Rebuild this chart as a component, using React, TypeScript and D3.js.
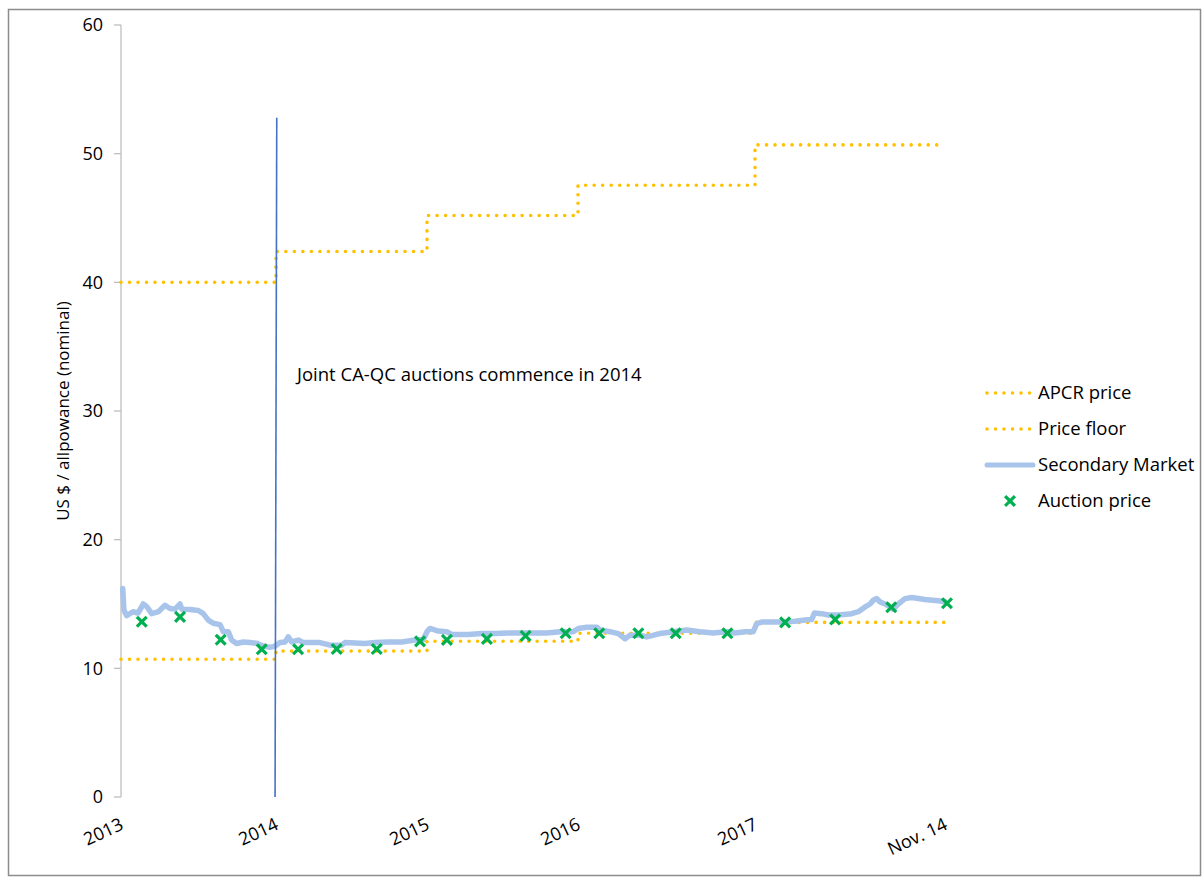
import React from 'react';
import * as d3 from 'd3';

// ---- data ----
const stepYears = [2013, 2014, 2015, 2016, 2017, 2017.87];
const priceFloor = [10.71, 11.34, 12.1, 12.73, 13.57];
const apcrPrice = [40, 42.4, 45.2, 47.54, 50.68];

const xTickYears = [2013, 2014, 2015, 2016, 2017, 2017.87];
const xTickLabels = ['2013', '2014', '2015', '2016', '2017', 'Nov. 14'];
const yTicks = [0, 10, 20, 30, 40, 50, 60];

const auctionYears = [
  2013.134, 2013.381, 2013.643, 2013.908, 2014.146, 2014.402, 2014.667, 2014.954,
  2015.132, 2015.397, 2015.653, 2015.918, 2016.12, 2016.341, 2016.552, 2016.844,
  2017.138, 2017.367, 2017.624, 2017.879,
];
const auctionPrices = [
  13.62, 14.0, 12.22, 11.48, 11.48, 11.5, 11.5, 12.1, 12.21, 12.29, 12.52, 12.73,
  12.73, 12.73, 12.73, 12.73, 13.57, 13.8, 14.75, 15.06,
];

const secondaryYears = [
  2013.011, 2013.019, 2013.037, 2013.077, 2013.11, 2013.144, 2013.166, 2013.198, 2013.241,
  2013.284, 2013.316, 2013.348, 2013.381, 2013.392, 2013.445, 2013.499, 2013.531, 2013.563,
  2013.595, 2013.639, 2013.66, 2013.692, 2013.714, 2013.746, 2013.789, 2013.832, 2013.875,
  2013.918, 2013.961, 2013.994,
  2014.026, 2014.06, 2014.081, 2014.104, 2014.148, 2014.181, 2014.291, 2014.358, 2014.435,
  2014.457, 2014.589, 2014.656, 2014.744, 2014.832, 2014.921, 2014.976,
  2015.0, 2015.02, 2015.075, 2015.13, 2015.164, 2015.274, 2015.362, 2015.45, 2015.538,
  2015.627, 2015.704, 2015.793, 2015.881, 2015.969,
  2016.002, 2016.049, 2016.106, 2016.124, 2016.181, 2016.228, 2016.266, 2016.294, 2016.35,
  2016.388, 2016.463, 2016.539, 2016.614, 2016.689, 2016.764, 2016.84, 2016.887, 2016.944,
  2016.99,
  2017.008, 2017.031, 2017.076, 2017.13, 2017.183, 2017.229, 2017.26, 2017.272, 2017.305,
  2017.336, 2017.381, 2017.443, 2017.473, 2017.504, 2017.527, 2017.542, 2017.557, 2017.573,
  2017.595, 2017.618, 2017.633, 2017.656, 2017.687, 2017.718, 2017.778, 2017.839, 2017.87,
];
const secondaryPrices = [
  16.2, 14.5, 14.1, 14.4, 14.3, 15.0, 14.8, 14.25, 14.4,
  14.9, 14.65, 14.6, 15.0, 14.6, 14.57, 14.5, 14.25, 13.75,
  13.5, 13.4, 12.85, 12.85, 12.2, 11.93, 12.05, 12.0, 11.95,
  11.73, 11.63, 11.73,
  12.0, 12.05, 12.44, 12.05, 12.2, 12.0, 12.0, 11.8, 11.8,
  12.0, 11.93, 12.0, 12.05, 12.05, 12.2, 12.24,
  12.85, 13.1, 12.9, 12.85, 12.63, 12.63, 12.7, 12.7, 12.75,
  12.75, 12.75, 12.75, 12.85, 12.85,
  13.1, 13.2, 13.2, 12.98, 12.85, 12.7, 12.3, 12.58, 12.58,
  12.44, 12.7, 12.85, 12.98, 12.85, 12.75, 12.85, 12.75, 12.85,
  12.85,
  13.48, 13.6, 13.6, 13.6, 13.66, 13.75, 13.8, 14.3, 14.25,
  14.14, 14.14, 14.25, 14.4, 14.77, 15.0, 15.3, 15.42, 15.16,
  15.0, 14.77, 14.6, 15.0, 15.42, 15.5, 15.35, 15.25, 15.17,
];

const markerYears = [2014.005, 2013.994];
const markerValues = [52.8, 0];

const annotationText = 'Joint CA-QC auctions commence in 2014';
const yTitle = 'US $ / allpowance (nominal)';
const legendItems = ['APCR price', 'Price floor', 'Secondary Market', 'Auction price'];

// ---- styles ----
const FONT = '"Open Sans", "Noto Sans", sans-serif';
const ORANGE = '#ffc000';
const LIGHTBLUE = '#a9c4eb';
const DARKBLUE = '#4472c4';
const GREEN = '#00b050';
const AXIS = '#bfbfbf';

export default function App() {
  const x = d3
    .scaleLinear()
    .domain(stepYears)
    .range([121, 276, 427, 578, 755, 945]);
  const y = d3.scaleLinear().domain([0, 60]).range([797, 25]);

  const stepLine = d3
    .line<[number, number]>()
    .x((d) => x(d[0]))
    .y((d) => y(d[1]))
    .curve(d3.curveStepAfter);

  const stepData = (vals: number[]): [number, number][] => {
    const pts: [number, number][] = vals.map((v, i) => [stepYears[i], v]);
    pts.push([stepYears[stepYears.length - 1], vals[vals.length - 1]]);
    return pts;
  };

  const plainLine = d3
    .line<[number, number]>()
    .x((d) => x(d[0]))
    .y((d) => y(d[1]));

  const secData: [number, number][] = secondaryYears.map((yr, i) => [yr, secondaryPrices[i]]);
  const markerData: [number, number][] = markerYears.map((yr, i) => [yr, markerValues[i]]);

  const dotStyle = {
    fill: 'none',
    stroke: ORANGE,
    strokeWidth: 3.6,
    strokeDasharray: '0.01 8.5',
    strokeLinecap: 'round' as const,
  };

  const xMark = (cx: number, cy: number, key: any) => (
    <g key={key} stroke={GREEN} strokeWidth={3.2} strokeLinecap="square">
      <line x1={cx - 3.8} y1={cy - 3.8} x2={cx + 3.8} y2={cy + 3.8} />
      <line x1={cx - 3.8} y1={cy + 3.8} x2={cx + 3.8} y2={cy - 3.8} />
    </g>
  );

  const legendY = [393, 429, 465, 501];
  const lx0 = 987;
  const lx1 = 1033;

  return (
    <svg
      width={1202}
      height={879}
      style={{ position: 'absolute', left: 0, top: 0, background: '#fff' }}
      fontFamily={FONT}
    >
      <rect x={8.5} y={9.5} width={1192} height={866} fill="#fff" stroke="#8c8c8c" strokeWidth={1.5} />

      {/* y axis */}
      <line x1={121} x2={121} y1={y(60)} y2={y(0)} stroke={AXIS} strokeWidth={1.3} />
      {yTicks.map((t) => (
        <g key={t}>
          <line x1={114} x2={121} y1={y(t)} y2={y(t)} stroke={AXIS} strokeWidth={1.3} />
          <text x={103} y={y(t)} dy="0.36em" textAnchor="end" fontSize={18} fill="#000">
            {t}
          </text>
        </g>
      ))}
      <text
        transform={`translate(63,411) rotate(-90)`}
        textAnchor="middle"
        dy="0.35em"
        fontSize={17}
        fill="#000"
      >
        {yTitle}
      </text>

      {/* x labels */}
      {xTickYears.map((yr, i) => (
        <text
          key={i}
          transform={`translate(${x(yr) + 1},${823}) rotate(-25)`}
          textAnchor="end"
          dy="0.35em"
          fontSize={18}
          fill="#000"
        >
          {xTickLabels[i]}
        </text>
      ))}

      {/* step lines */}
      <path d={stepLine(stepData(apcrPrice)) || ''} style={dotStyle} />
      <path d={stepLine(stepData(priceFloor)) || ''} style={dotStyle} />

      {/* secondary market */}
      <path
        d={plainLine(secData) || ''}
        fill="none"
        stroke={LIGHTBLUE}
        strokeWidth={5.5}
        strokeLinejoin="round"
        strokeLinecap="round"
      />

      {/* auction prices */}
      {auctionYears.map((yr, i) => xMark(x(yr), y(auctionPrices[i]), i))}

      {/* 2014 marker line */}
      <path d={plainLine(markerData) || ''} fill="none" stroke={DARKBLUE} strokeWidth={1.6} />

      <text x={297} y={375} dy="0.35em" fontSize={18.5} fill="#000">
        {annotationText}
      </text>

      {/* legend */}
      {legendItems.map((name, i) => {
        const ly = legendY[i];
        let sample;
        if (i < 2) sample = <line x1={lx0} x2={lx1} y1={ly} y2={ly} style={dotStyle} />;
        else if (i === 2)
          sample = (
            <line x1={lx0} x2={lx1} y1={ly} y2={ly} stroke={LIGHTBLUE} strokeWidth={5} strokeLinecap="round" />
          );
        else sample = xMark((lx0 + lx1) / 2, ly, 'lg');
        return (
          <g key={name}>
            {sample}
            <text x={1038} y={ly} dy="0.35em" fontSize={18.5} fill="#000">
              {name}
            </text>
          </g>
        );
      })}
    </svg>
  );
}
